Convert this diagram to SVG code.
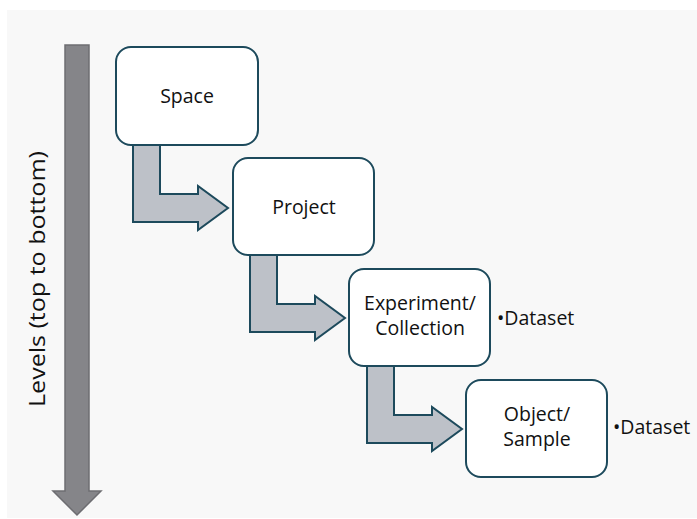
<svg xmlns="http://www.w3.org/2000/svg" width="697" height="519" viewBox="0 0 697 519">
  <style>
    .box { fill: #ffffff; stroke: #1d4a5c; stroke-width: 2; }
    .elbow { fill: #bdc1c8; stroke: #1d4a5c; stroke-width: 2; stroke-linejoin: miter; }
    .label { font-family: "Open Sans", "Liberation Sans", sans-serif; font-size: 19.5px; fill: #111111; text-anchor: middle; }
    .note { font-family: "Open Sans", "Liberation Sans", sans-serif; font-size: 19.5px; fill: #111111; }
    .axis { font-family: "Open Sans", "Liberation Sans", sans-serif; font-size: 22px; fill: #111111; text-anchor: middle; }
  </style>
  <defs>
    <path id="elbow-shape" d="M0,0 L27,0 L27,49 L65,49 L65,41 L95,63 L65,85 L65,77 L0,77 Z"/>
  </defs>

  <rect x="0" y="0" width="697" height="519" fill="#ffffff"/>
  <rect x="7" y="10" width="690" height="508" fill="#f8f8f8"/>

  <!-- level axis -->
  <g id="levels-axis">
    <path d="M65,45 L89,45 L89,491 L101,491 L77,515 L53,491 L65,491 Z" fill="#858589" stroke="#6d6d71" stroke-width="1.5"/>
    <text class="axis" transform="translate(45,279) rotate(-90)" textLength="256" lengthAdjust="spacingAndGlyphs">Levels (top to bottom)</text>
  </g>

  <!-- connectors -->
  <g id="connectors">
    <use href="#elbow-shape" class="elbow" transform="translate(133,145)"/>
    <use href="#elbow-shape" class="elbow" transform="translate(250,255)"/>
    <use href="#elbow-shape" class="elbow" transform="translate(367,366)"/>
  </g>

  <g id="space">
    <rect class="box" x="116" y="47" width="142" height="98" rx="15"/>
    <text class="label" x="187" y="103">Space</text>
  </g>

  <g id="project">
    <rect class="box" x="233" y="158" width="141" height="97" rx="15"/>
    <text class="label" x="304" y="214">Project</text>
  </g>

  <g id="experiment">
    <rect class="box" x="349" y="269" width="141" height="97" rx="15"/>
    <text class="label" x="420" y="310">Experiment/</text>
    <text class="label" x="420" y="335">Collection</text>
    <text class="note" x="497" y="325">•Dataset</text>
  </g>

  <g id="object">
    <rect class="box" x="466" y="380" width="141" height="97" rx="15"/>
    <text class="label" x="537" y="421">Object/</text>
    <text class="label" x="537" y="446">Sample</text>
    <text class="note" x="613" y="434">•Dataset</text>
  </g>
</svg>
